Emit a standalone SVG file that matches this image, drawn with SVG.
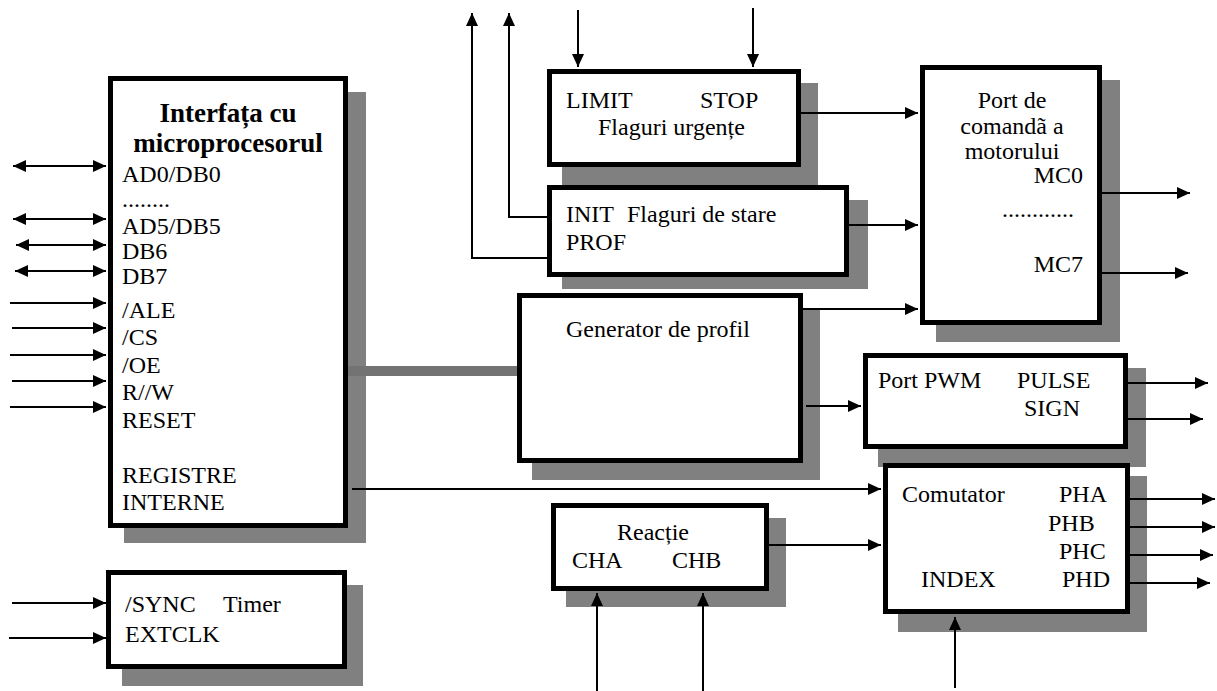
<svg xmlns="http://www.w3.org/2000/svg" width="1217" height="691" viewBox="0 0 1217 691">
  <defs>
    <marker id="ah" markerUnits="userSpaceOnUse" markerWidth="14" markerHeight="12" refX="13" refY="6" orient="auto-start-reverse">
      <path d="M0,0 L13,6 L0,12 z" fill="#000"/>
    </marker>
    <style>
      .shadow { fill: #808080; stroke: none; }
      .box { fill: #fff; stroke: #000; stroke-width: 5; }
      text { font-family: "Liberation Serif", "Times New Roman", serif; font-size: 24px; fill: #000; }
      .title { font-weight: bold; font-size: 27px; text-anchor: middle; }
      .mid { text-anchor: middle; }
      .end { text-anchor: end; }
      .wire { fill: none; stroke: #000; stroke-width: 2; }
      .arrow { fill: none; stroke: #000; stroke-width: 2; marker-end: url(#ah); }
      .bidir { fill: none; stroke: #000; stroke-width: 2; marker-start: url(#ah); marker-end: url(#ah); }
      .bus { fill: none; stroke: #737373; stroke-width: 10; }
    </style>
  </defs>
  <rect width="1217" height="691" fill="#fff"/>

  <!-- drop shadows behind every block -->
  <g id="shadows">
    <rect class="shadow" x="124" y="92" width="242" height="451"/>
    <rect class="shadow" x="122" y="585" width="241" height="101"/>
    <rect class="shadow" x="562" y="83" width="256" height="102"/>
    <rect class="shadow" x="562" y="200" width="306" height="89"/>
    <rect class="shadow" x="936" y="80" width="184" height="262"/>
    <rect class="shadow" x="532" y="308" width="288" height="172"/>
    <rect class="shadow" x="878" y="368" width="268" height="99"/>
    <rect class="shadow" x="566" y="518" width="220" height="89"/>
    <rect class="shadow" x="898" y="476" width="249" height="156"/>
  </g>

  <g id="interfata">
    <rect class="box" x="110.5" y="78.5" width="235" height="447"/>
    <text class="title" x="228" y="122">Interfața cu</text>
    <text class="title" x="228" y="152">microprocesorul</text>
    <text x="122" y="182">AD0/DB0</text>
    <text x="122" y="207">........</text>
    <text x="122" y="234">AD5/DB5</text>
    <text x="122" y="259">DB6</text>
    <text x="122" y="284">DB7</text>
    <text x="122" y="318">/ALE</text>
    <text x="122" y="345">/CS</text>
    <text x="122" y="373">/OE</text>
    <text x="122" y="400">R//W</text>
    <text x="122" y="428">RESET</text>
    <text x="122" y="483">REGISTRE</text>
    <text x="122" y="510">INTERNE</text>
  </g>

  <g id="timer">
    <rect class="box" x="108.5" y="572.5" width="236" height="94"/>
    <text x="125" y="612">/SYNC</text>
    <text x="223" y="612">Timer</text>
    <text x="125" y="642">EXTCLK</text>
  </g>

  <g id="flaguri-urgente">
    <rect class="box" x="549.5" y="71.5" width="249" height="93"/>
    <text x="566" y="108">LIMIT</text>
    <text x="700" y="108">STOP</text>
    <text x="598" y="135">Flaguri urgențe</text>
  </g>

  <g id="flaguri-stare">
    <rect class="box" x="549.5" y="187.5" width="297" height="87"/>
    <text x="566" y="222">INIT</text>
    <text x="627" y="222">Flaguri de stare</text>
    <text x="566" y="250">PROF</text>
  </g>

  <g id="port-comanda">
    <rect class="box" x="922.5" y="67.5" width="177" height="255"/>
    <text class="mid" x="1012" y="108">Port de</text>
    <text class="mid" x="1012" y="134">comandã a</text>
    <text class="mid" x="1012" y="159">motorului</text>
    <text class="end" x="1083" y="183">MC0</text>
    <text x="1002" y="217">............</text>
    <text class="end" x="1083" y="272">MC7</text>
  </g>

  <g id="generator">
    <rect class="box" x="519.5" y="295.5" width="281" height="165"/>
    <text class="mid" x="658" y="337">Generator de profil</text>
  </g>

  <g id="port-pwm">
    <rect class="box" x="865.5" y="355.5" width="260" height="91"/>
    <text x="878" y="388">Port PWM</text>
    <text x="1017" y="388">PULSE</text>
    <text x="1024" y="416">SIGN</text>
  </g>

  <g id="reactie">
    <rect class="box" x="553.5" y="505.5" width="213" height="83"/>
    <text class="mid" x="653" y="540">Reacție</text>
    <text x="572" y="568">CHA</text>
    <text x="672" y="568">CHB</text>
  </g>

  <g id="comutator">
    <rect class="box" x="885.5" y="465.5" width="242" height="146"/>
    <text x="902" y="502">Comutator</text>
    <text x="1059" y="502">PHA</text>
    <text x="1048" y="531">PHB</text>
    <text x="1059" y="559">PHC</text>
    <text x="921" y="587">INDEX</text>
    <text x="1062" y="587">PHD</text>
  </g>

  <g id="connectors">
    <!-- internal bus to the profile generator -->
    <line class="bus" x1="348" y1="371" x2="517" y2="371"/>

    <!-- microprocessor data lines -->
    <line class="bidir" x1="13" y1="166" x2="106" y2="166"/>
    <line class="bidir" x1="13" y1="219" x2="106" y2="219"/>
    <line class="bidir" x1="16" y1="245" x2="106" y2="245"/>
    <line class="bidir" x1="15" y1="271" x2="106" y2="271"/>
    <!-- control inputs -->
    <line class="arrow" x1="10" y1="303" x2="106" y2="303"/>
    <line class="arrow" x1="12" y1="328" x2="106" y2="328"/>
    <line class="arrow" x1="10" y1="355" x2="106" y2="355"/>
    <line class="arrow" x1="12" y1="381" x2="106" y2="381"/>
    <line class="arrow" x1="10" y1="407" x2="106" y2="407"/>
    <!-- timer inputs -->
    <line class="arrow" x1="12" y1="603" x2="106" y2="603"/>
    <line class="arrow" x1="9" y1="638" x2="106" y2="638"/>

    <!-- emergency flags -->
    <line class="arrow" x1="578" y1="10" x2="578" y2="67"/>
    <line class="arrow" x1="753" y1="8" x2="753" y2="67"/>
    <line class="arrow" x1="801" y1="113" x2="918" y2="113"/>

    <!-- status flags -->
    <polyline class="arrow" points="547,217 509,217 509,13"/>
    <polyline class="arrow" points="547,258 472,258 472,13"/>
    <line class="arrow" x1="849" y1="225" x2="918" y2="225"/>

    <!-- motor command port -->
    <line class="arrow" x1="803" y1="309" x2="918" y2="309"/>
    <line class="arrow" x1="1102" y1="193" x2="1190" y2="193"/>
    <line class="arrow" x1="1102" y1="273" x2="1188" y2="273"/>

    <!-- PWM port -->
    <line class="arrow" x1="806" y1="406" x2="861" y2="406"/>
    <line class="arrow" x1="1128" y1="383" x2="1208" y2="383"/>
    <line class="arrow" x1="1128" y1="419" x2="1203" y2="419"/>

    <!-- commutator -->
    <line class="arrow" x1="352" y1="489" x2="881" y2="489"/>
    <line class="arrow" x1="769" y1="545" x2="881" y2="545"/>
    <line class="arrow" x1="955" y1="688" x2="955" y2="617"/>
    <line class="arrow" x1="1130" y1="499" x2="1215" y2="499"/>
    <line class="arrow" x1="1130" y1="527" x2="1215" y2="527"/>
    <line class="arrow" x1="1130" y1="555" x2="1213" y2="555"/>
    <line class="arrow" x1="1130" y1="583" x2="1210" y2="583"/>

    <!-- encoder feedback -->
    <line class="arrow" x1="597" y1="691" x2="597" y2="593"/>
    <line class="arrow" x1="703" y1="691" x2="703" y2="593"/>
  </g>
</svg>
